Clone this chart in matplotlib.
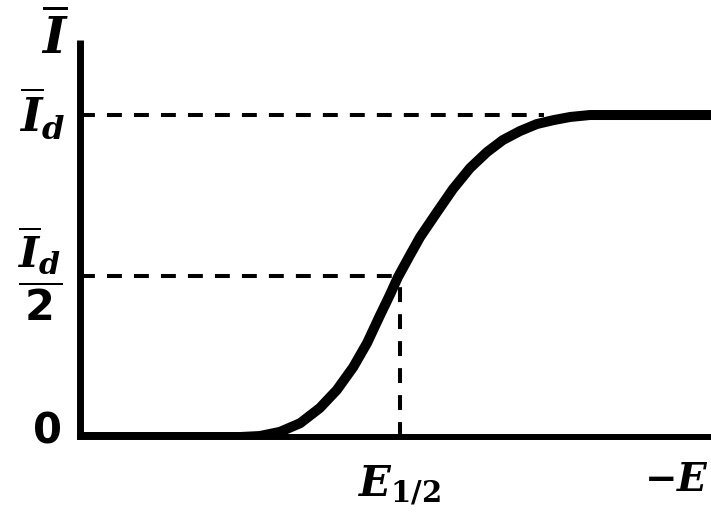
import numpy as np
import matplotlib
matplotlib.use("Agg")
import matplotlib.pyplot as plt

plt.rcParams["mathtext.fontset"] = "custom"
plt.rcParams["mathtext.rm"] = "DejaVu Serif:bold"
plt.rcParams["mathtext.it"] = "DejaVu Serif:italic:bold"
plt.rcParams["mathtext.bf"] = "DejaVu Serif:bold"
plt.rcParams["mathtext.sf"] = "DejaVu Sans:bold"

# polarographic wave (E in arbitrary units, I in units of I_d)
E = [0.0, 2.54, 2.85, 3.17, 3.49, 3.80, 4.07, 4.33, 4.55, 4.75, 4.91, 5.04, 5.23,
     5.39, 5.66, 5.91, 6.18, 6.45, 6.70, 6.97, 7.24, 7.50, 7.77, 8.08, 8.56, 10.0]
I = [0.0, 0.0, 0.003, 0.016, 0.043, 0.090, 0.146, 0.217, 0.292, 0.376, 0.441, 0.497, 0.565,
     0.621, 0.699, 0.770, 0.835, 0.885, 0.922, 0.950, 0.972, 0.984, 0.994, 1.0, 1.0, 1.0]

I_d = 1.0
E_half = 5.07
E_plateau = 7.35

fig = plt.figure(figsize=(7.11, 5.17), dpi=100)
ax = fig.add_axes([80 / 711, 80 / 517, 631 / 711, 397 / 517])
ax.set_xlim(0, 10)
ax.set_ylim(0, 1.233)

ax.plot(E, I, color="black", lw=7.2, solid_capstyle="butt", solid_joinstyle="round", zorder=3)

dash = dict(color="black", lw=2.9, dashes=(3.7, 3.0), zorder=2)
ax.plot([0, E_plateau], [I_d, I_d], **dash)
ax.plot([0, E_half], [I_d / 2, I_d / 2], **dash)
ax.plot([E_half, E_half], [0, I_d / 2], **dash)

for s in ["top", "right"]:
    ax.spines[s].set_visible(False)
ax.spines["left"].set_linewidth(5)
ax.spines["bottom"].set_linewidth(4.3)
ax.spines["left"].set_capstyle("butt")
ax.set_xticks([])
ax.set_yticks([])

fig.text(55 / 711, 1 - 37 / 517, r"$\overline{I}$", fontsize=36, ha="center", va="center")
fig.text(42 / 711, 1 - 114 / 517, r"$\overline{I}_d$", fontsize=33, ha="center", va="center")
fig.text(40 / 711, 1 - 274 / 517, r"$\dfrac{\overline{I}_d}{\mathsf{2}}$", fontsize=31, ha="center", va="center")
fig.text(48 / 711, 1 - 432 / 517, "0", fontsize=30, family="DejaVu Sans", fontweight="bold",
         ha="center", va="center")
fig.text(400 / 711, 1 - 485 / 517, r"$E_{1/2}$", fontsize=30, ha="center", va="center")
fig.text(676 / 711, 1 - 480 / 517, r"$-E$", fontsize=28, ha="center", va="center")

fig.savefig("out.png", dpi=100)
